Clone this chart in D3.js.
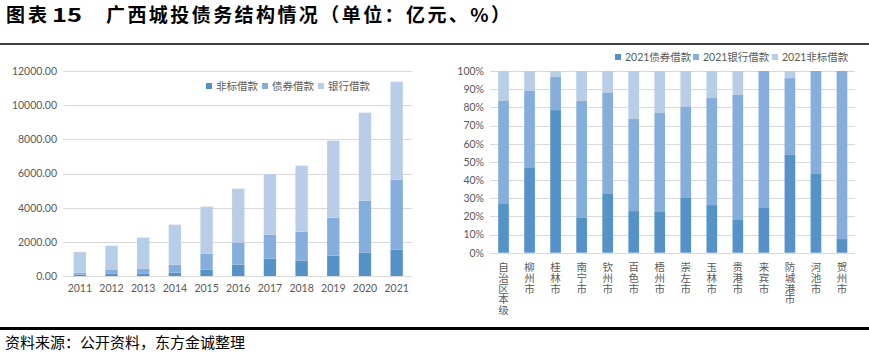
<!DOCTYPE html>
<html><head><meta charset="utf-8">
<script src="https://cdn.jsdelivr.net/npm/d3@7"></script>
<style>
html,body{margin:0;padding:0;background:#fff;}
svg{display:block;}
</style></head>
<body>
<script>
// ---------- data ----------
const years = ["2011","2012","2013","2014","2015","2016","2017","2018","2019","2020","2021"];
const feiBiao = [80,140,140,200,370,660,1015,900,1190,1365,1540];      // 非标借款
const zhaiQuan = [115,210,290,460,935,1290,1405,1695,2225,3045,4100];  // 债券借款
const yinHang = [1210,1425,1815,2345,2755,3160,3550,3865,4505,5150,5735]; // 银行借款
const leftSeries = ["非标借款","债券借款","银行借款"];
const leftTicks = [0,2000,4000,6000,8000,10000,12000];

const cities = ["自治区本级","柳州市","桂林市","南宁市","钦州市","百色市","梧州市","崇左市","玉林市","贵港市","来宾市","防城港市","河池市","贺州市"];
const bond2021 = [26.8,46.6,78.5,19.1,32.3,22.9,22.4,30.1,26.2,18.0,24.6,53.8,43.3,7.5];   // 2021债券借款 %
const bank2021 = [56.7,42.4,18.2,64.4,55.6,50.7,54.5,50.1,58.9,68.8,75.4,42.3,56.7,92.5]; // 2021银行借款 %
const nonStd2021 = [16.5,11.0,3.3,16.5,12.1,26.4,23.1,19.8,14.9,13.2,0,3.9,0,0];         // 2021非标借款 %
const rightSeries = ["2021债券借款","2021银行借款","2021非标借款"];
const rightTicks = [0,10,20,30,40,50,60,70,80,90,100];

const colors = ["#5592c8","#85aedc","#b8cde8"];
const numFont = "'Century Gothic', Lato, 'Noto Sans CJK SC', sans-serif";
const cjkFont = "'Noto Sans CJK SC', sans-serif";
const textCol = "#595959";
const gridCol = "#d9d9d9";

const W = 869, H = 352;
const svg = d3.select("body").append("svg").attr("width", W).attr("height", H);

// ---------- title & frame ----------
svg.append("text").attr("x", 6).attr("y", 22)
  .attr("font-family", cjkFont).attr("font-weight", 700).attr("font-size", 19)
  .attr("textLength", 41).attr("lengthAdjust", "spacing")
  .attr("fill", "#000").text("图表");
svg.append("text").attr("x", 52).attr("y", 22)
  .attr("font-family", cjkFont).attr("font-weight", 700).attr("font-size", 19)
  .attr("textLength", 30).attr("lengthAdjust", "spacingAndGlyphs")
  .attr("fill", "#000").text("15");
svg.append("text").attr("x", 106).attr("y", 22)
  .attr("font-family", cjkFont).attr("font-weight", 700).attr("font-size", 19)
  .attr("textLength", 404).attr("lengthAdjust", "spacing")
  .attr("fill", "#000").text("广西城投债务结构情况（单位：亿元、%）");
svg.append("line").attr("x1", 0).attr("x2", W).attr("y1", 44).attr("y2", 44)
  .attr("stroke", "#000").attr("stroke-width", 1.5);
svg.append("line").attr("x1", 0).attr("x2", W).attr("y1", 328.5).attr("y2", 328.5)
  .attr("stroke", "#000").attr("stroke-width", 3);
svg.append("text").attr("x", 5).attr("y", 348)
  .attr("font-family", cjkFont).attr("font-size", 15)
  .attr("fill", "#000").text("资料来源：公开资料，东方金诚整理");

// ---------- left chart ----------
const lx = d3.scaleBand().domain(years).range([64, 412.5]).paddingInner(0.61).paddingOuter(0.305);
const ly = d3.scaleLinear().domain([0, 12000]).range([276, 71]);
const gL = svg.append("g");

gL.append("g").selectAll("line").data(leftTicks).join("line")
  .attr("x1", 63).attr("x2", 412.5)
  .attr("y1", d => Math.round(ly(d)) + 0.5).attr("y2", d => Math.round(ly(d)) + 0.5)
  .attr("stroke", gridCol).attr("stroke-width", 1);

const leftData = years.map((y, i) => ({year: y, v: [feiBiao[i], zhaiQuan[i], yinHang[i]]}));
const leftStack = d3.stack().keys([0,1,2]).value((d, k) => d.v[k])(leftData);
gL.append("g").selectAll("g").data(leftStack).join("g")
  .attr("fill", (d, i) => colors[i])
  .selectAll("rect").data(d => d).join("rect")
  .attr("x", d => lx(d.data.year)).attr("width", lx.bandwidth())
  .attr("y", d => ly(d[1])).attr("height", d => ly(d[0]) - ly(d[1]));

const laxY = gL.append("g").attr("transform", "translate(57,0)")
  .call(d3.axisLeft(ly).tickValues(leftTicks).tickFormat(d3.format(".2f")).tickSize(0).tickPadding(0));
laxY.select(".domain").remove();
laxY.selectAll("text").attr("font-family", numFont).attr("font-size", 10.5).attr("fill", textCol);

const laxX = gL.append("g").attr("transform", "translate(0,285)")
  .call(d3.axisBottom(lx).tickSize(0).tickPadding(0));
laxX.select(".domain").remove();
laxX.selectAll("text").attr("font-family", numFont).attr("font-size", 10.5).attr("fill", textCol).attr("dy", "0.71em");

// left legend
const lLegX = [206, 262, 318];
const lLeg = gL.append("g").selectAll("g").data(leftSeries).join("g")
  .attr("transform", (d, i) => `translate(${lLegX[i]},86)`);
lLeg.append("rect").attr("x", 0).attr("y", -3).attr("width", 6).attr("height", 6).attr("fill", (d, i) => colors[i]);
lLeg.append("text").attr("x", 10).attr("y", 0).attr("dy", "0.35em")
  .attr("font-family", cjkFont).attr("font-size", 10.5).attr("fill", textCol).text(d => d);

// ---------- right chart ----------
const rx = d3.scaleBand().domain(cities).range([490.5, 855]).paddingInner(0.59).paddingOuter(0.295);
const ry = d3.scaleLinear().domain([0, 100]).range([252.7, 71]);
const gR = svg.append("g");

gR.append("g").selectAll("line").data(rightTicks).join("line")
  .attr("x1", 490).attr("x2", 855)
  .attr("y1", d => Math.round(ry(d)) + 0.5).attr("y2", d => Math.round(ry(d)) + 0.5)
  .attr("stroke", gridCol).attr("stroke-width", 1);

const rightData = cities.map((c, i) => ({city: c, v: [bond2021[i], bank2021[i], nonStd2021[i]]}));
const rightStack = d3.stack().keys([0,1,2]).value((d, k) => d.v[k])(rightData);
gR.append("g").selectAll("g").data(rightStack).join("g")
  .attr("fill", (d, i) => colors[i])
  .selectAll("rect").data(d => d).join("rect")
  .attr("x", d => rx(d.data.city)).attr("width", rx.bandwidth())
  .attr("y", d => ry(Math.min(d[1], 100))).attr("height", d => Math.max(0, ry(d[0]) - ry(Math.min(d[1], 100))));

const raxY = gR.append("g").attr("transform", "translate(484,0)")
  .call(d3.axisLeft(ry).tickValues(rightTicks).tickFormat(d => d + "%").tickSize(0).tickPadding(0));
raxY.select(".domain").remove();
raxY.selectAll("text").attr("font-family", numFont).attr("font-size", 10.5).attr("fill", textCol);

// vertical city labels (one text each, vertical writing mode)
gR.append("g").selectAll("text").data(cities).join("text")
  .attr("x", d => rx(d) + rx.bandwidth() / 2).attr("y", 262)
  .attr("font-family", cjkFont).attr("font-size", 10.5).attr("fill", textCol)
  .style("writing-mode", "vertical-rl").style("text-orientation", "upright")
  .attr("letter-spacing", 0.2)
  .text(d => d);

// right legend
const rLegX = [615, 693, 772];
const rLeg = gR.append("g").selectAll("g").data(rightSeries).join("g")
  .attr("transform", (d, i) => `translate(${rLegX[i]},57)`);
rLeg.append("rect").attr("x", 0).attr("y", -3).attr("width", 6).attr("height", 6).attr("fill", (d, i) => colors[i]);
rLeg.append("text").attr("x", 10).attr("y", 0).attr("dy", "0.35em")
  .attr("font-family", numFont).attr("font-size", 10.5).attr("fill", textCol).text(d => d);
</script>
</body></html>
